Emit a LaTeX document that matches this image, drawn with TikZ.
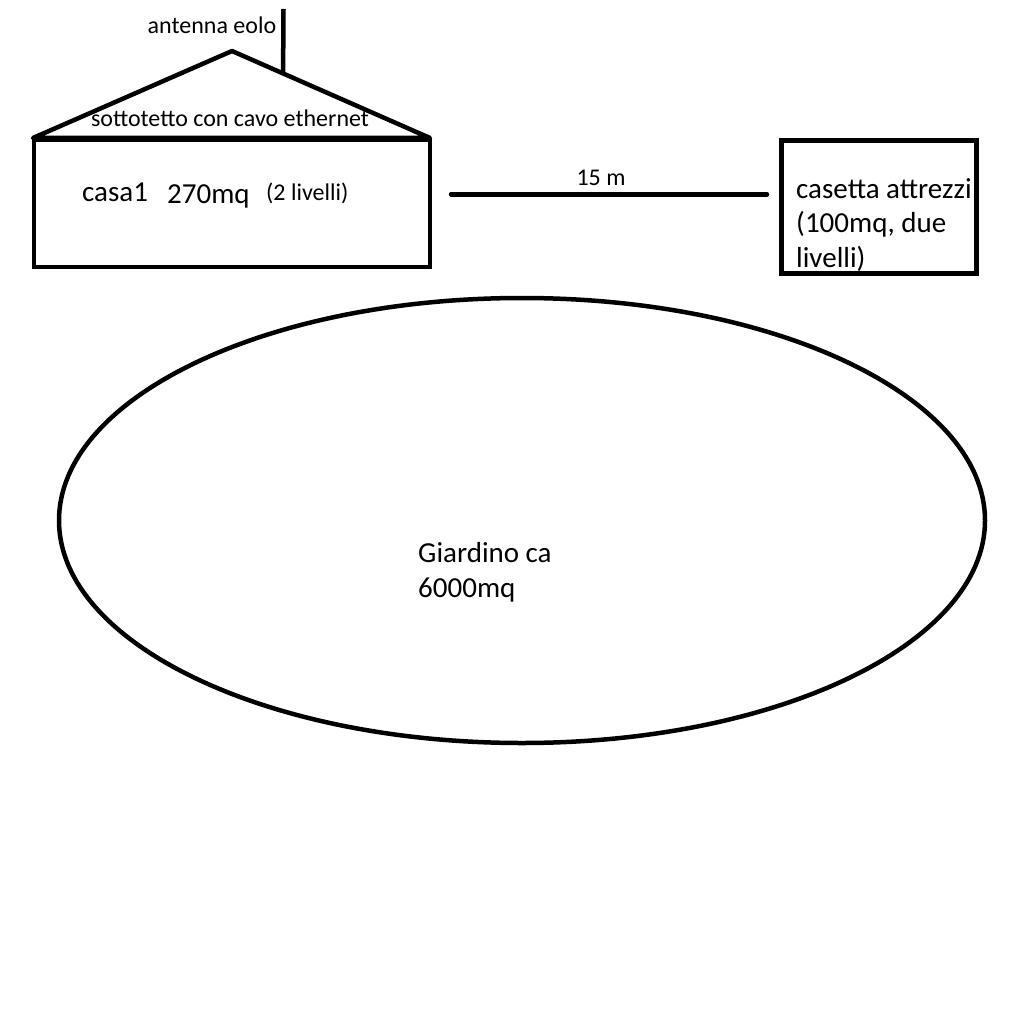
\documentclass[tikz,border=0pt]{standalone}
\usepackage{fontspec}
\setmainfont{Carlito}
\usepackage{tikz}
\usetikzlibrary{shapes.geometric,positioning,calc}
\tikzstyle{outline} = [draw, line width=4.5pt]
\tikzstyle{bigtext} = [font=\fontsize{29}{34.5}\selectfont, inner sep=0pt]
\tikzstyle{smalltext} = [font=\fontsize{24}{28}\selectfont, inner sep=0pt]

\begin{document}
\begin{tikzpicture}[x=1pt, y=-1pt]
\fill[white] (0,0) rectangle (1024,1024);
\useasboundingbox (0,0) rectangle (1024,1024);
% House with roof and antenna
\node[outline, minimum width=396pt, minimum height=127pt, inner sep=0pt] (casa) at (232,203.5) {};
\coordinate (apex) at (232,51);
\coordinate (eaveL) at (33,138);
\coordinate (eaveR) at (430,138);
\draw[outline, line join=round] (eaveL) -- (apex) -- (eaveR) -- cycle;
\coordinate (mast) at ($(apex)!0.258!(eaveR)$);
\coordinate (masttop) at (283.5,9);
\draw[outline] (masttop) -- (mast);

% Labels of the house
\node[smalltext, anchor=base] (antennalabel) at (212,34) {antenna eolo};
\node[smalltext, anchor=base] (atticlabel) at (230,127) {sottotetto con cavo ethernet};
\node[bigtext, anchor=base west] (casalabel) at (82,201.5) {casa1};
\node[bigtext, anchor=base west] (arealabel) at (167,203.5) {270mq};
\node[smalltext, anchor=base west] (levellabel) at (266,200.5) {(2 livelli)};

% Distance to the tool shed
\coordinate (linkA) at (451,194.3);
\coordinate (linkB) at (767,194.3);
\draw[outline, line cap=round] (linkA) -- (linkB);
\node[smalltext, anchor=base] (distlabel) at (601,186) {15 m};

% Tool shed
\node[outline, line width=4.8pt, minimum width=195pt, minimum height=133pt, inner sep=0pt] (casetta) at (879,207) {};
\node[bigtext, anchor=base west, align=left] (shedlabel) at (796,267) {casetta attrezzi\\(100mq, due\\livelli)};

% Garden
\node[outline, ellipse, minimum width=926pt, minimum height=445pt, inner sep=0pt] (giardino) at (522,520.5) {};
\node[bigtext, anchor=base west, align=left] (gardenlabel) at (418,597) {Giardino ca\\6000mq};
\end{tikzpicture}
\end{document}
